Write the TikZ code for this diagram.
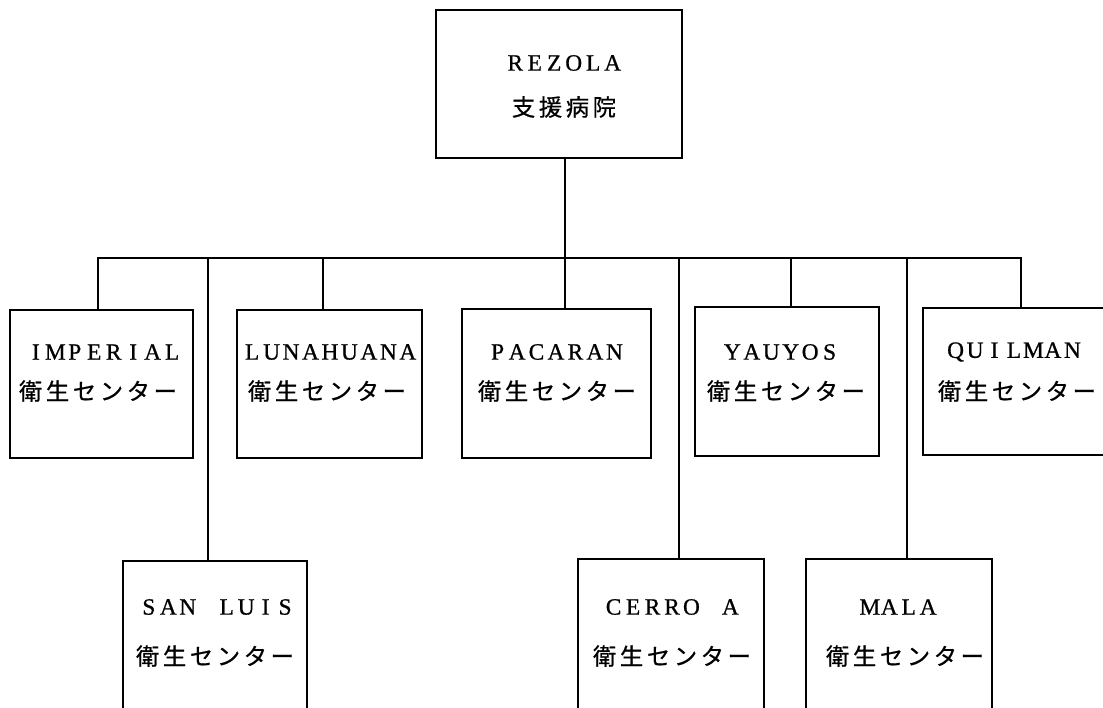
\documentclass[tikz,border=0pt]{standalone}
\usepackage{fontspec}
\setmainfont{Liberation Serif}
\newfontfamily\latinfont[FakeBold=0.8]{Liberation Serif}
\newfontfamily\cjk[FakeBold=0.6]{Noto Sans CJK JP}
\usetikzlibrary{fit}
\makeatletter
\newcommand\pitched[2]{\@tfor\pt@ch:=#2\do{\makebox[#1][c]{\pt@ch}}}
\makeatother
\newcommand\latin[1]{{\latinfont\fontsize{17.5pt}{20pt}\selectfont\pitched{14.6pt}{#1}}}
\newcommand\kanji[1]{{\cjk\fontsize{17.5pt}{20pt}\selectfont\pitched{20.2pt}{#1}}}
\begin{document}
\begin{tikzpicture}[x=0.75pt,y=-0.75pt,
  box/.style={draw, line width=1.5pt, inner sep=0pt, rectangle},
  link/.style={line width=1.5pt},
  lbl/.style={inner sep=0pt, anchor=center}]
\useasboundingbox (0,0) rectangle (1103,707);
\fill[white] (0,0) rectangle (1103,707);
\clip (0,0) rectangle (1103,707);

% boxes
\node[box, fit={(436,10) (682,158)}] (rez) {};
\node[box, fit={(10,310) (193,458)}] (imp) {};
\node[box, fit={(237,310) (422,458)}] (lun) {};
\node[box, fit={(462,309) (651,458)}] (pac) {};
\node[box, fit={(695,307) (879,456)}] (yau) {};
\node[box, fit={(923,308) (1110,455)}] (qui) {};
\node[box, fit={(123,561) (307,725)}] (san) {};
\node[box, fit={(578,559) (764,725)}] (cer) {};
\node[box, fit={(806,559) (992,725)}] (mal) {};

% junctions on the bus
\coordinate (jImp) at (98,258);
\coordinate (jSan) at (208,258);
\coordinate (jLun) at (323,258);
\coordinate (jPac) at (565,258);
\coordinate (jCer) at (679,258);
\coordinate (jYau) at (791,258);
\coordinate (jMal) at (907,258);
\coordinate (jQui) at (1021,258);

% connectors
\draw[link] (jImp |- imp.north) -- (jImp) -- (jQui) -- (jQui |- qui.north);
\draw[link] (jPac |- rez.south) -- (jPac |- pac.north);
\draw[link] (jLun) -- (jLun |- lun.north);
\draw[link] (jYau) -- (jYau |- yau.north);
\draw[link] (jSan) -- (jSan |- san.north);
\draw[link] (jCer) -- (jCer |- cer.north);
\draw[link] (jMal) -- (jMal |- mal.north);

% texts
\node[lbl] (rezA) at (564,63) {\latin{REZOLA}};
\node[lbl] (rezB) at (564,107) {\kanji{支援病院}};
\node[lbl] (impA) at (104,352) {\latin{IMPERIAL}};
\node[lbl] (impB) at (98,391) {\kanji{衛生センター}};
\node[lbl] (lunA) at (330,352) {\latin{LUNAHUANA}};
\node[lbl] (lunB) at (327,391) {\kanji{衛生センター}};
\node[lbl] (pacA) at (556,352) {\latin{PACARAN}};
\node[lbl] (pacB) at (557,391) {\kanji{衛生センター}};
\node[lbl] (yauA) at (781,352) {\latin{YAUYOS}};
\node[lbl] (yauB) at (786,391) {\kanji{衛生センター}};
\node[lbl] (quiA) at (1014,352) {\latin{QUILMAN}};
\node[lbl] (quiB) at (1017,391) {\kanji{衛生センター}};
\node[lbl] (sanA) at (217,607) {\latin{SAN~LUIS}};
\node[lbl] (sanB) at (215,656) {\kanji{衛生センター}};
\node[lbl] (cerA) at (672,607) {\latin{CERRO~A}};
\node[lbl] (cerB) at (672,656) {\kanji{衛生センター}};
\node[lbl] (malA) at (899,607) {\latin{MALA}};
\node[lbl] (malB) at (905,656) {\kanji{衛生センター}};
\end{tikzpicture}
\end{document}
